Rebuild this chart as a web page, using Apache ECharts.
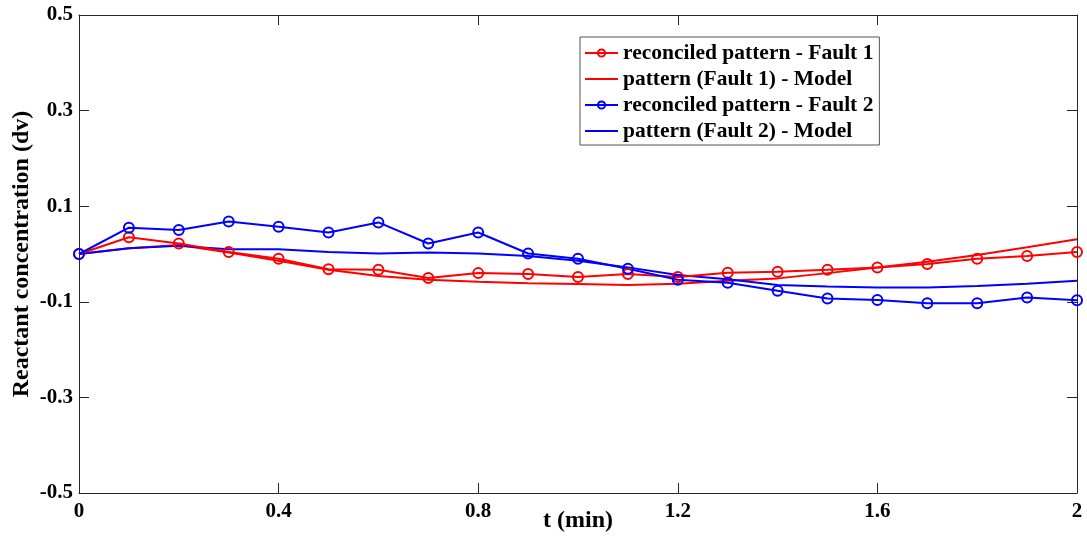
<!DOCTYPE html>
<html>
<head>
<meta charset="utf-8">
<script src="https://cdn.jsdelivr.net/npm/echarts@6/dist/echarts.min.js"></script>
<style>
  html, body { margin: 0; padding: 0; background: #fff; }
  #chart { width: 1087px; height: 536px; }
</style>
</head>
<body>
<div id="chart"></div>
<script>
const tMin = [0, 0.1, 0.2, 0.3, 0.4, 0.5, 0.6, 0.7, 0.8, 0.9, 1.0,
  1.1, 1.2, 1.3, 1.4, 1.5, 1.6, 1.7, 1.8, 1.9, 2.0]

const fault1Reconciled = [0, 0.035, 0.022, 0.004, -0.010, -0.032, -0.033, -0.050, -0.040, -0.042, -0.048,
  -0.042, -0.048, -0.039, -0.037, -0.033, -0.028, -0.021, -0.010, -0.004, 0.004]
const fault1Model = [0, 0.012, 0.019, 0.003, -0.014, -0.033, -0.046, -0.054, -0.058, -0.061, -0.063,
  -0.065, -0.062, -0.056, -0.051, -0.040, -0.028, -0.016, -0.002, 0.014, 0.031]
const fault2Reconciled = [0, 0.055, 0.050, 0.068, 0.057, 0.045, 0.066, 0.022, 0.045, 0.001, -0.010,
  -0.031, -0.054, -0.060, -0.077, -0.093, -0.096, -0.103, -0.103, -0.091, -0.097]
const fault2Model = [0, 0.012, 0.017, 0.010, 0.010, 0.004, 0.001, 0.003, 0.001, -0.004, -0.014,
  -0.028, -0.044, -0.053, -0.065, -0.068, -0.070, -0.070, -0.067, -0.062, -0.056]

const yTicks = [-0.5, -0.3, -0.1, 0.1, 0.3, 0.5]

const FONT = '"Liberation Serif", "Times New Roman", serif'
const RED = '#ff0000'
const BLUE = '#0000ff'
const AXIS = '#262626'

const pairs = (ys) => tMin.map((t, i) => [t, ys[i]])

const chart = echarts.init(document.getElementById('chart'))

const markerSeries = (name, color, ys) => ({
  name,
  type: 'line',
  data: pairs(ys),
  symbol: 'circle',
  symbolSize: 10,
  lineStyle: { color, width: 2 },
  itemStyle: { color: 'rgba(0,0,0,0)', borderColor: color, borderWidth: 2 },
  emphasis: { disabled: true },
  z: 3,
})

const modelSeries = (name, color, ys) => ({
  name,
  type: 'line',
  data: pairs(ys),
  symbol: 'none',
  lineStyle: { color, width: 2 },
  itemStyle: { color },
  emphasis: { disabled: true },
  z: 2,
})

const hiddenAxisBits = {
  axisLabel: { show: false },
  axisTick: { inside: true, length: 10, lineStyle: { color: AXIS } },
  axisLine: { onZero: false, lineStyle: { color: AXIS, width: 1 } },
  splitLine: { show: false },
}

const noDot = { color: 'rgba(0,0,0,0)', borderWidth: 0 }

chart.setOption({
  animation: false,
  backgroundColor: '#fff',
  grid: { left: 79, right: 10, top: 15, bottom: 43, outerBoundsMode: 'none', containLabel: false },
  legend: {
    orient: 'vertical',
    left: 580,
    top: 37,
    padding: [5, 6, 3, 4],
    itemGap: 4,
    itemWidth: 33,
    itemHeight: 9,
    backgroundColor: '#fff',
    borderColor: '#555',
    borderWidth: 1,
    borderRadius: 0,
    textStyle: { fontFamily: FONT, fontWeight: 'bold', fontSize: 21.5, color: '#000', lineHeight: 22 },
    data: [
      { name: 'reconciled pattern - Fault 1' },
      { name: 'pattern (Fault 1) - Model', itemStyle: noDot },
      { name: 'reconciled pattern - Fault 2' },
      { name: 'pattern (Fault 2) - Model', itemStyle: noDot },
    ],
  },
  xAxis: [
    {
      type: 'value',
      min: 0,
      max: 2,
      interval: 0.4,
      name: 't (min)',
      nameLocation: 'middle',
      nameGap: 16,
      nameMoveOverlap: false,
      nameTextStyle: { fontFamily: FONT, fontWeight: 'bold', fontSize: 24, color: '#000' },
      axisLabel: { fontFamily: FONT, fontWeight: 'bold', fontSize: 21, color: '#000', margin: 8 },
      axisTick: { inside: true, length: 10, lineStyle: { color: AXIS } },
      axisLine: { onZero: false, lineStyle: { color: AXIS, width: 1 } },
      splitLine: { show: false },
    },
    { type: 'value', position: 'top', min: 0, max: 2, interval: 0.4, ...hiddenAxisBits },
  ],
  yAxis: [
    {
      type: 'value',
      min: -0.5,
      max: 0.5,
      name: 'Reactant concentration (dv)',
      nameLocation: 'middle',
      nameGap: 45,
      nameMoveOverlap: false,
      nameTextStyle: { fontFamily: FONT, fontWeight: 'bold', fontSize: 24, color: '#000' },
      axisLabel: {
        customValues: yTicks,
        formatter: (v) => v.toFixed(1),
        fontFamily: FONT, fontWeight: 'bold', fontSize: 21, color: '#000', margin: 6,
      },
      axisTick: { customValues: yTicks, inside: true, length: 10, lineStyle: { color: AXIS } },
      axisLine: { show: true, onZero: false, lineStyle: { color: AXIS, width: 1 } },
      splitLine: { show: false },
    },
    {
      type: 'value',
      position: 'right',
      min: -0.5,
      max: 0.5,
      ...hiddenAxisBits,
      axisTick: { customValues: yTicks, inside: true, length: 10, lineStyle: { color: AXIS } },
      axisLine: { show: true, onZero: false, lineStyle: { color: AXIS, width: 1 } },
    },
  ],
  series: [
    markerSeries('reconciled pattern - Fault 1', RED, fault1Reconciled),
    modelSeries('pattern (Fault 1) - Model', RED, fault1Model),
    markerSeries('reconciled pattern - Fault 2', BLUE, fault2Reconciled),
    modelSeries('pattern (Fault 2) - Model', BLUE, fault2Model),
  ],
})
</script>
</body>
</html>
